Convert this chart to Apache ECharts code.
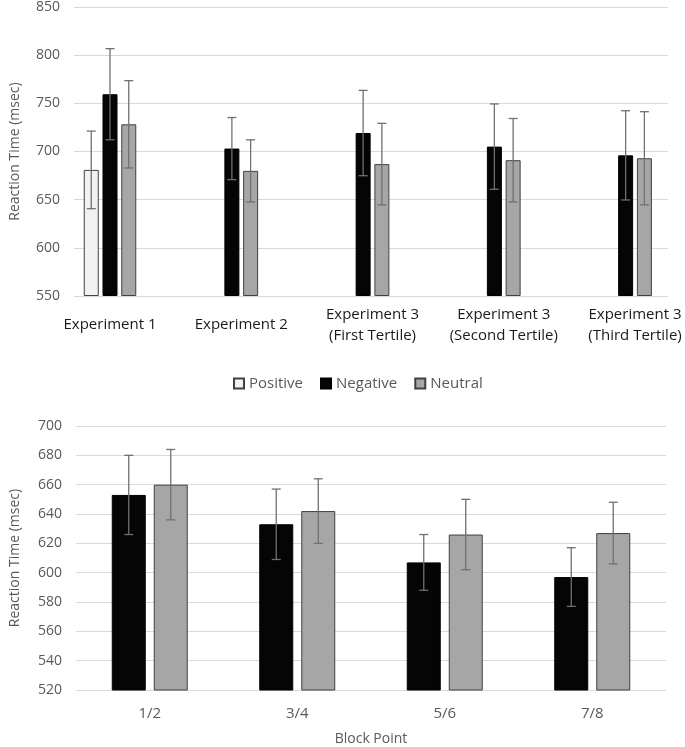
<!DOCTYPE html>
<html>
<head>
<meta charset="utf-8">
<script src="https://cdn.jsdelivr.net/npm/echarts@6/dist/echarts.min.js"></script>
<style>
  html, body { margin: 0; padding: 0; background: #fff; }
  #chart { width: 685px; height: 747px; }
</style>
</head>
<body>
<div id="chart"></div>
<script>
// top panel: experiments
const topCategories = ['Experiment 1', 'Experiment 2', 'Experiment 3\n(First Tertile)', 'Experiment 3\n(Second Tertile)', 'Experiment 3\n(Third Tertile)'];
const topPositive = [680, null, null, null, null];
const topPositiveSd = [40, null, null, null, null];
const topNegative = [758, 702, 718, 704, 695];
const topNegativeSd = [47, 32, 44, 44, 46];
const topNeutral = [727, 679, 686, 690, 692];
const topNeutralSd = [45, 32, 42, 43, 48];

// bottom panel: block points
const blockPoints = ['1/2', '3/4', '5/6', '7/8'];
const blockNegative = [653, 633, 607, 597];
const blockNegativeSd = [27, 24, 19, 20];
const blockNeutral = [660, 642, 626, 627];
const blockNeutralSd = [24, 22, 24, 21];

const FONT = 'Open Sans';
const GRID_LINE = '#d9d9d9';
const TEXT = '#595959';
const ERR = '#707070';
const TOP_MIN = 550;

const styles = {
  Positive: { color: '#f2f2f2', borderColor: '#404040', borderWidth: 1 },
  Negative: { color: '#050505', borderColor: '#000', borderWidth: 1 },
  Neutral: { color: '#a6a6a6', borderColor: '#404040', borderWidth: 1 }
};

const chart = echarts.init(document.getElementById('chart'));

// split top categories: groups with a positive value get three bars, others two
const hasPos = topPositive.map(v => v != null);
const pick = (arr, three) => arr.map((v, i) => (hasPos[i] === three ? v : null));

function errSeries(name, xIdx, yIdx, means, sds, offset) {
  const data = [];
  means.forEach((m, i) => { if (m != null) data.push([i, m, sds[i]]); });
  return {
    type: 'custom',
    name: name + ' error',
    xAxisIndex: xIdx,
    yAxisIndex: yIdx,
    z: 5,
    silent: true,
    clip: false,
    data: data,
    encode: { x: 0, y: 1 },
    renderItem: function (params, api) {
      const i = api.value(0), m = api.value(1), s = api.value(2);
      const x = api.coord([i, m])[0] + offset;
      const yt = api.coord([i, m + s])[1];
      const yb = api.coord([i, m - s])[1];
      const cap = 4.5;
      const st = { stroke: ERR, lineWidth: 1.3 };
      return {
        type: 'group',
        children: [
          { type: 'line', shape: { x1: x, y1: yt, x2: x, y2: yb }, style: st },
          { type: 'line', shape: { x1: x - cap, y1: yt, x2: x + cap, y2: yt }, style: st },
          { type: 'line', shape: { x1: x - cap, y1: yb, x2: x + cap, y2: yb }, style: st }
        ]
      };
    }
  };
}

const TOP_BW = 15, TOP_GAP = 3.75;
const BOT_BW = 34, BOT_GAP = 8;

function barSeries(name, xIdx, yIdx, data, bw, gapPct, clip) {
  return {
    type: 'bar',
    name: name,
    xAxisIndex: xIdx,
    yAxisIndex: yIdx,
    data: data,
    barWidth: bw,
    barGap: gapPct,
    clip: clip,
    itemStyle: styles[name],
    emphasis: { disabled: true }
  };
}

const option = {
  animation: false,
  backgroundColor: '#fff',
  textStyle: { fontFamily: FONT },
  legend: {
    data: ['Positive', 'Negative', 'Neutral'],
    left: 228,
    top: 371,
    itemWidth: 10,
    itemHeight: 10,
    itemGap: 17,
    icon: 'rect',
    textStyle: { fontFamily: FONT, fontSize: 15, color: TEXT, padding: [0, 0, 0, 0] }
  },
  grid: [
    { left: 64, top: 5, width: 604, height: 291 },
    // bar grid for the top panel: categories sit on tick points
    { left: 110, top: 5, width: 525, height: 291 },
    { left: 76, top: 426, width: 590, height: 264 }
  ],
  xAxis: [
    { type: 'category', gridIndex: 0, data: topCategories, show: false },
    {
      type: 'category', gridIndex: 1, data: topCategories, boundaryGap: false,
      axisLine: { show: false }, axisTick: { show: false },
      axisLabel: { fontFamily: FONT, fontSize: 15, color: '#1a1a1a', margin: 29, verticalAlign: 'middle', lineHeight: 21, interval: 0 }
    },
    { type: 'category', gridIndex: 1, data: topCategories, boundaryGap: false, show: false },
    {
      type: 'category', gridIndex: 2, data: blockPoints,
      axisLine: { show: false }, axisTick: { show: false },
      axisLabel: { fontFamily: FONT, fontSize: 15, color: TEXT, margin: 16 },
      name: 'Block Point', nameLocation: 'middle', nameGap: 42,
      nameTextStyle: { fontFamily: FONT, fontSize: 14, color: TEXT }
    }
  ],
  yAxis: [
    {
      type: 'value', gridIndex: 0, min: TOP_MIN, max: 850, interval: 50,
      axisLine: { show: false }, axisTick: { show: false },
      splitLine: { lineStyle: { color: GRID_LINE, width: 1 } },
      axisLabel: { fontFamily: FONT, fontSize: 14, color: TEXT, margin: 14 },
      name: 'Reaction Time (msec)', nameLocation: 'middle', nameGap: 52,
      nameTextStyle: { fontFamily: FONT, fontSize: 14, color: TEXT }
    },
    { type: 'value', gridIndex: 1, min: TOP_MIN, max: 850, startValue: TOP_MIN, show: false, splitLine: { show: false } },
    {
      type: 'value', gridIndex: 2, min: 520, max: 700, interval: 20,
      axisLine: { show: false }, axisTick: { show: false },
      splitLine: { lineStyle: { color: GRID_LINE, width: 1 } },
      axisLabel: { fontFamily: FONT, fontSize: 14, color: TEXT, margin: 14 },
      name: 'Reaction Time (msec)', nameLocation: 'middle', nameGap: 54,
      nameTextStyle: { fontFamily: FONT, fontSize: 14, color: TEXT }
    }
  ],
  series: [
    // experiment 1: three bars on the hidden axis
    barSeries('Positive', 2, 1, pick(topPositive, true), TOP_BW, '25%', false),
    barSeries('Negative', 2, 1, pick(topNegative, true), TOP_BW, '25%', false),
    barSeries('Neutral', 2, 1, pick(topNeutral, true), TOP_BW, '25%', false),
    // remaining groups: two bars
    barSeries('Negative', 1, 1, pick(topNegative, false), TOP_BW, '25%', false),
    barSeries('Neutral', 1, 1, pick(topNeutral, false), TOP_BW, '25%', false),
    errSeries('Positive', 2, 1, pick(topPositive, true), topPositiveSd, -(TOP_BW + TOP_GAP)),
    errSeries('Negative', 2, 1, pick(topNegative, true), topNegativeSd, 0),
    errSeries('Neutral', 2, 1, pick(topNeutral, true), topNeutralSd, TOP_BW + TOP_GAP),
    errSeries('Negative', 1, 1, pick(topNegative, false), topNegativeSd, -(TOP_BW + TOP_GAP) / 2),
    errSeries('Neutral', 1, 1, pick(topNeutral, false), topNeutralSd, (TOP_BW + TOP_GAP) / 2),
    // bottom panel
    barSeries('Negative', 3, 2, blockNegative, BOT_BW, (BOT_GAP / BOT_BW * 100) + '%', true),
    barSeries('Neutral', 3, 2, blockNeutral, BOT_BW, (BOT_GAP / BOT_BW * 100) + '%', true),
    errSeries('Negative', 3, 2, blockNegative, blockNegativeSd, -(BOT_BW + BOT_GAP) / 2),
    errSeries('Neutral', 3, 2, blockNeutral, blockNeutralSd, (BOT_BW + BOT_GAP) / 2)
  ]
};

chart.setOption(option);
</script>
</body>
</html>
